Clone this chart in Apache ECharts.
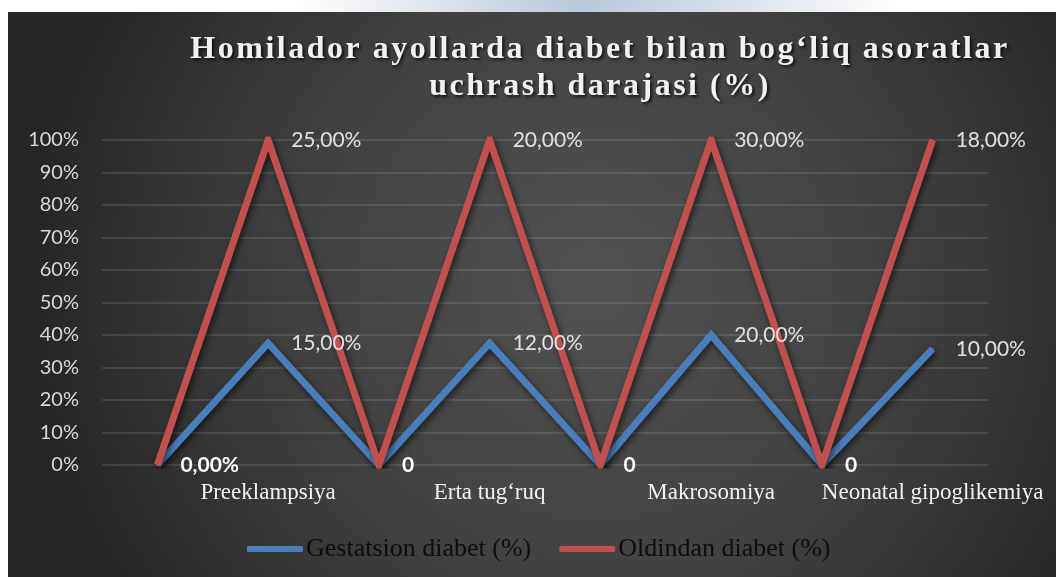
<!DOCTYPE html>
<html>
<head>
<meta charset="utf-8">
<title>Homilador ayollarda diabet</title>
<script src="https://cdn.jsdelivr.net/npm/echarts@6/dist/echarts.min.js"></script>
<style>
    html, body { margin: 0; padding: 0; background: #ffffff; }
    #strip {
        position: absolute; left: 0; top: 0; width: 1056px; height: 12px;
        background: linear-gradient(to right, #ffffff 28%, #d3dce8 45%, #b9c8dc 55%, #d9e1ec 70%, #ffffff 85%);
    }
    #_chart { position: absolute; left: 8px; top: 12px; width: 1048px; height: 565px; }
</style>
</head>
<body>
<div id="strip"></div>
<div id="_chart"></div>
<script>
var categories = ['', 'Preeklampsiya', '', 'Erta tug‘ruq', '', 'Makrosomiya', '', 'Neonatal gipoglikemiya'];
var gestatsion = [0, 15, 0, 12, 0, 20, 0, 10];
var oldindan = [0, 25, 0, 20, 0, 30, 0, 18];
var gestLabels = ['0,00%', '15,00%', '0', '12,00%', '0', '20,00%', '0', '10,00%'];
var oldLabels = ['', '25,00%', '', '20,00%', '', '30,00%', '', '18,00%'];

var blue = '#4a7ebb';
var red = '#c0504d';

// 100% stacked: each series as a share of the category total
function shareOf(arr, other) {
    return arr.map(function (v, i) {
        var t = v + other[i];
        return t ? v / t : 0;
    });
}

// the title is letter-spaced in the original, canvas can do that
var baseFillText = CanvasRenderingContext2D.prototype.fillText;
CanvasRenderingContext2D.prototype.fillText = function (text, x, y, maxWidth) {
    this.letterSpacing = /bold 32px/.test(this.font) ? '2.5px' : '0px';
    if (maxWidth === undefined) {
        return baseFillText.call(this, text, x, y);
    }
    return baseFillText.call(this, text, x, y, maxWidth);
};

function labelFor(texts, raw) {
    return function (p) {
        var t = texts[p.dataIndex];
        if (!t) return '';
        return raw[p.dataIndex] === 0 ? '{z|' + t + '}' : t;
    };
}

var lineShadow = {
    shadowColor: 'rgba(0,0,0,0.6)',
    shadowBlur: 6,
    shadowOffsetX: 2,
    shadowOffsetY: 3
};

var chart = echarts.init(document.getElementById('_chart'));
var option = {
    animation: false,
    backgroundColor: {
        type: 'radial', x: 0.56, y: 0.48, r: 1.0,
        colorStops: [
            {offset: 0, color: '#525252'},
            {offset: 0.5, color: '#424242'},
            {offset: 1, color: '#262626'}
        ]
    },
    title: {
        text: 'Homilador ayollarda diabet bilan bog‘liq asoratlar\nuchrash darajasi (%)',
        left: 592,
        top: 19,
        padding: 0,
        textAlign: 'center',
        textStyle: {
            fontFamily: "'Liberation Serif', 'Times New Roman', serif",
            fontWeight: 'bold',
            fontSize: 32,
            lineHeight: 37,
            color: '#f2f2f2',
            textShadowColor: 'rgba(0,0,0,0.7)',
            textShadowBlur: 3,
            textShadowOffsetX: 2,
            textShadowOffsetY: 2
        }
    },
    legend: {
        left: 239,
        top: 522,
        padding: 0,
        icon: 'roundRect',
        itemWidth: 56,
        itemHeight: 6,
        itemGap: 28,
        textStyle: {
            fontFamily: "'Liberation Serif', 'Times New Roman', serif",
            fontSize: 26,
            lineHeight: 30,
            color: '#0d0d0d',
            padding: [0, 0, 0, -2]
        },
        data: [
            {name: 'Gestatsion diabet (%)', itemStyle: {color: blue}},
            {name: 'Oldindan diabet (%)', itemStyle: {color: red}}
        ]
    },
    grid: {left: 94, right: 68, top: 128, bottom: 112},
    xAxis: {
        type: 'category',
        data: categories,
        boundaryGap: true,
        axisLine: {show: false},
        axisTick: {show: false},
        axisLabel: {
            interval: 0,
            margin: 16,
            fontFamily: "'Liberation Serif', 'Times New Roman', serif",
            fontSize: 23,
            color: '#f2f2f2'
        }
    },
    yAxis: {
        type: 'value',
        min: 0,
        max: 1,
        interval: 0.1,
        axisLine: {show: false},
        axisTick: {show: false},
        axisLabel: {
            margin: 23,
            fontFamily: 'Lato, sans-serif',
            fontSize: 20,
            color: '#d9d9d9',
            formatter: function (v) { return Math.round(v * 100) + '%'; }
        },
        splitLine: {lineStyle: {color: 'rgba(255,255,255,0.14)', width: 1.5}}
    },
    series: [
        {
            name: 'Gestatsion diabet (%)',
            type: 'line',
            stack: 'total',
            data: shareOf(gestatsion, oldindan),
            symbol: 'circle',
            symbolSize: 2,
            itemStyle: {color: blue},
            lineStyle: Object.assign({color: blue, width: 7, join: 'miter', cap: 'butt'}, lineShadow),
            label: {
                show: true,
                position: 'right',
                distance: 22,
                fontFamily: 'Lato, sans-serif',
                fontSize: 21,
                color: '#e0e0e0',
                formatter: labelFor(gestLabels, gestatsion),
                rich: {
                    z: {fontFamily: 'Lato, sans-serif', fontSize: 21, fontWeight: 'bold', color: '#ffffff'}
                }
            },
            emphasis: {disabled: true}
        },
        {
            name: 'Oldindan diabet (%)',
            type: 'line',
            stack: 'total',
            data: shareOf(oldindan, gestatsion),
            symbol: 'circle',
            symbolSize: 2,
            itemStyle: {color: red},
            lineStyle: Object.assign({color: red, width: 7, join: 'miter', cap: 'butt'}, lineShadow),
            label: {
                show: true,
                position: 'right',
                distance: 22,
                fontFamily: 'Lato, sans-serif',
                fontSize: 21,
                color: '#e0e0e0',
                formatter: labelFor(oldLabels, oldindan)
            },
            emphasis: {disabled: true}
        }
    ]
};
chart.setOption(option);
</script>
</body>
</html>
